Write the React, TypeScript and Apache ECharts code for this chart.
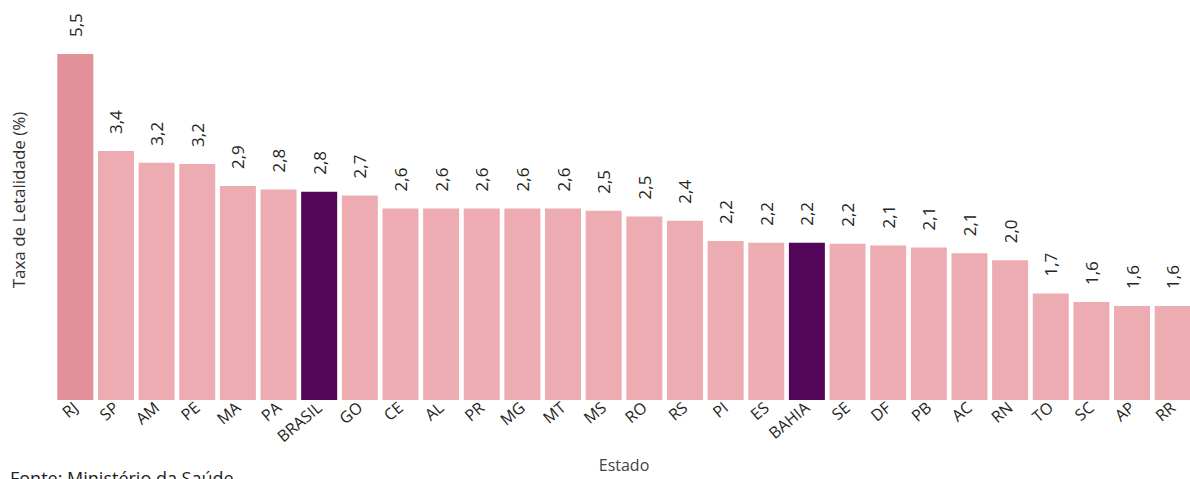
import React, { useEffect, useRef } from "react";
import * as echarts from "echarts";

const categories = ["RJ", "SP", "AM", "PE", "MA", "PA", "BRASIL", "GO", "CE", "AL", "PR", "MG", "MT", "MS", "RO", "RS", "PI", "ES", "BAHIA", "SE", "DF", "PB", "AC", "RN", "TO", "SC", "AP", "RR"];
const lethality = [5.5, 3.41, 3.22, 3.2, 2.87, 2.82, 2.79, 2.74, 2.57, 2.57, 2.57, 2.57, 2.57, 2.54, 2.47, 2.42, 2.19, 2.17, 2.17, 2.16, 2.14, 2.12, 2.06, 1.99, 1.69, 1.62, 1.59, 1.59];
const highlighted = ["BRASIL", "BAHIA"];
const topState = "RJ";

const yTitle = "Taxa de Letalidade (%)";
const xTitle = "Estado";
const source = "Fonte: Ministério da Saúde";

export default function App() {
  const ref = useRef<HTMLDivElement>(null);
  useEffect(() => {
    document.body.style.margin = "0";
    if (!ref.current) return;
    const chart = echarts.init(ref.current, null, { renderer: "svg" });
    const font = "'Open Sans', 'Noto Sans', sans-serif";
    chart.setOption({
      animation: false,
      grid: { left: 55, right: -3, top: 54, bottom: 79, containLabel: false, outerBoundsMode: "none" },
      xAxis: {
        type: "category",
        data: categories,
        name: xTitle,
        nameLocation: "middle",
        nameGap: 57,
        nameTextStyle: { fontSize: 16, color: "#444", fontFamily: font },
        axisLine: { show: false },
        axisTick: { show: false },
        axisLabel: {
          rotate: 40,
          interval: 0,
          margin: 5,
          fontSize: 16,
          color: "#252423",
          fontFamily: font,
        },
      },
      yAxis: {
        type: "log",
        logBase: 10,
        min: 1,
        max: 5.5,
        axisLine: { show: false },
        axisTick: { show: false },
        axisLabel: { show: false },
        splitLine: { show: false },
      },
      series: [
        {
          type: "bar",
          barCategoryGap: "11.4%",
          data: lethality.map((v, i) => ({
            value: v,
            itemStyle: {
              color: highlighted.includes(categories[i])
                ? "#52075A"
                : categories[i] === topState
                ? "#E39198"
                : "#EDACB2",
            },
          })),
          label: {
            show: true,
            position: "top",
            rotate: 90,
            align: "left",
            verticalAlign: "middle",
            distance: 17,
            fontSize: 17,
            color: "#252423",
            fontFamily: font,
            formatter: (p: any) => Number(p.value).toFixed(1).replace(".", ","),
          },
        },
      ],
      graphic: [
        {
          type: "text",
          x: 18,
          y: 200,
          rotation: Math.PI / 2,
          style: {
            text: yTitle,
            fontSize: 17,
            fill: "#333",
            fontFamily: font,
            align: "center",
            verticalAlign: "middle",
          },
        },
        {
          type: "text",
          left: 10,
          top: 469,
          style: {
            text: source,
            fontSize: 18,
            fill: "#222",
            fontFamily: font,
          },
        },
      ],
    });
    return () => chart.dispose();
  }, []);
  return <div ref={ref} style={{ width: 1190, height: 479, background: "#fff" }} />;
}
